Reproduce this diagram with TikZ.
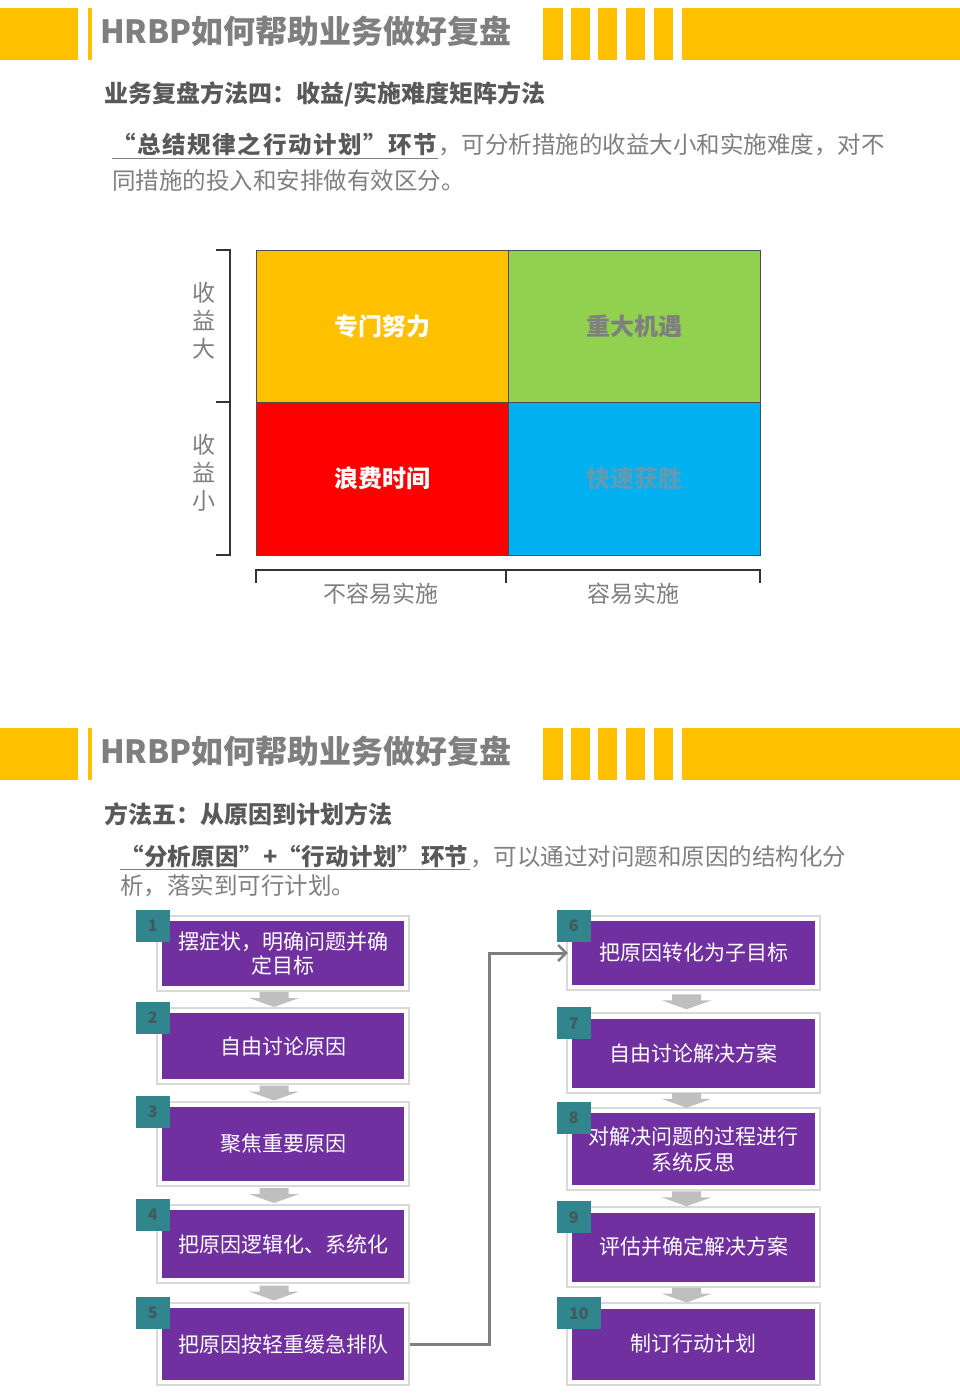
\documentclass[tikz,border=0pt]{standalone}
\usepackage{fontspec}
\setmainfont{Noto Sans CJK SC}
\usetikzlibrary{calc,arrows.meta,backgrounds}
\definecolor{gold}{HTML}{FFC000}
\definecolor{mgreen}{HTML}{92D050}
\definecolor{mred}{HTML}{FF0000}
\definecolor{mblue}{HTML}{00B0F0}
\definecolor{purp}{HTML}{7030A0}
\definecolor{badgeteal}{HTML}{31868E}
\definecolor{badgetxt}{HTML}{3F5A5C}
\definecolor{txtdark}{HTML}{595959}
\definecolor{txtgray}{HTML}{7F7F7F}
\definecolor{chevgray}{HTML}{BFBFBF}
\definecolor{fastblue}{HTML}{5E9DB5}
\definecolor{conngray}{HTML}{7F7F7F}
\newcommand\fs[1]{\fontsize{#1pt}{#1pt}\selectfont}
\newcommand\myhdr[2]{%
  \fill[gold] (0,#1) rectangle (78,{#1+52});
  \fill[gold] (88,#1) rectangle (92,{#1+52});
  \fill[gold] (543,#1) rectangle (563,{#1+52});
  \fill[gold] (571,#1) rectangle (590,{#1+52});
  \fill[gold] (598,#1) rectangle (617,{#1+52});
  \fill[gold] (626,#1) rectangle (645,{#1+52});
  \fill[gold] (654,#1) rectangle (673,{#1+52});
  \fill[gold] (682,#1) rectangle (960,{#1+52});
  \node[hdr] (#2) at (100,{#1+23}) {HRBP如何帮助业务做好复盘};
}
\begin{document}
\begin{tikzpicture}[x=1pt,y=-1pt,
  hdr/.style={anchor=west, text=txtgray, font=\fs{32}\bfseries, inner sep=0},
  ttl/.style={anchor=west, text=txtdark, font=\fs{24}\bfseries, inner sep=0},
  parab/.style={anchor=base west, text=txtdark, font=\fs{23.5}\bfseries, inner sep=0},
  parar/.style={anchor=base west, text=txtgray, font=\fs{23.5}, inner sep=0},
  cell/.style={minimum width=252pt, minimum height=152.5pt, inner sep=0, draw=black!70, line width=0.8pt, font=\fs{24}\bfseries},
  axl/.style={text=txtgray, font=\fs{23}, inner sep=0, align=center},
  brk/.style={draw=black!80, line width=1.2pt},
  pbox/.style={fill=purp, text=white, font=\fs{21}, inner sep=0, align=center},
  lbox/.style={pbox, minimum width=242pt},
  rbox/.style={pbox, minimum width=243pt},
  frame/.style={fill=white, draw=black!15, line width=2pt},
  badge/.style={fill=badgeteal, text=badgetxt, font=\fs{16}\bfseries, minimum width=34pt, minimum height=32pt, inner sep=0},
  conn/.style={draw=conngray, line width=3pt, -{Straight Barb[length=8pt, width=16pt, line width=2.5pt]}},
  chev/.pic={\fill[chevgray] (-14.5,0) -- (14.5,0) -- (14.5,6) -- (25,6) -- (0,15) -- (-25,6) -- (-14.5,6) -- cycle;}
]
\useasboundingbox (0,0) rectangle (960,1396);

% ---------- section 1 ----------
\myhdr{8}{hdrA}
\node[ttl] (t1) at (104,94) {业务复盘方法四：收益/实施难度矩阵方法};
\node[parab] (p1b) at (112,154) {\addfontfeature{LetterSpace=7}“总结规律之行动计划”环节};
\node[parar] (p1r) at (438,154) {，可分析措施的收益大小和实施难度，对不};
\node[parar] (p1s) at (112,190) {同措施的投入和安排做有效区分。};
\draw[txtgray, line width=1pt] (112,158.5) -- (438,158.5);

\node[cell, fill=gold, text=white] (q1) at (382,326.25) {专门努力};
\node[cell, fill=mgreen, text=txtgray] (q2) at (634,326.25) {重大机遇};
\node[cell, fill=mred, text=white] (q3) at (382,478.75) {浪费时间};
\node[cell, fill=mblue, text=fastblue] (q4) at (634,478.75) {快速获胜};

\draw[brk] (216,250) -- (230,250) -- (230,555) -- (216,555);
\draw[brk] (216,402) -- (230,402);
\node[axl] (yhi) at (204,321) {收\\[5pt]益\\[5pt]大};
\node[axl] (ylo) at (204,473) {收\\[5pt]益\\[5pt]小};

\draw[brk] (256,583) -- (256,570) -- (760,570) -- (760,583);
\draw[brk] (506,570) -- (506,583);
\node[axl] (xhard) at (381,594) {不容易实施};
\node[axl] (xeasy) at (633,594) {容易实施};

% ---------- section 2 ----------
\myhdr{728}{hdrB}
\node[ttl] (t2) at (104,814) {方法五：从原因到计划方法};
\node[parab] (p2b) at (120,865) {\addfontfeature{LetterSpace=1.5}“分析原因”+“行动计划”环节};
\node[parar] (p2r) at (470,865) {，可以通过对问题和原因的结构化分};
\node[parar] (p2s) at (120,894) {析，落实到可行计划。};
\draw[txtgray, line width=1pt] (120,869.5) -- (470,869.5);

% left column
\node[lbox, minimum height=65pt] (b1) at (283,953.5) {摆症状，明确问题并确\\[3pt]定目标};
\node[lbox, minimum height=66pt] (b2) at (283,1046) {自由讨论原因};
\node[lbox, minimum height=74pt] (b3) at (283,1144) {聚焦重要原因};
\node[lbox, minimum height=68pt] (b4) at (283,1244) {把原因逻辑化、系统化};
\node[lbox, minimum height=72pt] (b5) at (283,1344) {把原因按轻重缓急排队};
% right column
\node[rbox, minimum height=64pt] (b6) at (693.5,953) {把原因转化为子目标};
\node[rbox, minimum height=69pt] (b7) at (693.5,1053) {自由讨论解决方案};
\node[rbox, minimum height=72pt] (b8) at (693.5,1149) {对解决问题的过程进行\\[5pt]系统反思};
\node[rbox, minimum height=69pt] (b9) at (693.5,1247) {评估并确定解决方案};
\node[rbox, minimum height=71pt] (b10) at (693.5,1344) {制订行动计划};

\begin{scope}[on background layer]
  \fill[white] (0,0) rectangle (960,1396);
  \foreach \b in {b1,b2,b3,b4,b5,b6,b7,b8,b9,b10}{
    \draw[frame] ([shift={(-5pt,5pt)}]\b.north west) rectangle ([shift={(5pt,-5pt)}]\b.south east);
  }
\end{scope}

% badges
\foreach \b/\n in {b1/1,b2/2,b3/3,b4/4,b5/5}{
  \node[badge] (n\n) at ([shift={(-9pt,-5pt)}]\b.north west) {\n};
}
\foreach \b/\n in {b6/6,b7/7,b8/8,b9/9}{
  \node[badge] (n\n) at ([shift={(2pt,-5pt)}]\b.north west) {\n};
}
\node[badge, minimum width=44pt] (n10) at ([shift={(7pt,-5pt)}]b10.north west) {10};

% chevrons
\foreach \a/\c in {b1/b2,b2/b3,b3/b4,b4/b5}{
  \path ($(\a.south)!0.5!(\c.north)+(-9pt,7.5pt)$) pic {chev};
}
\foreach \a/\c in {b6/b7,b7/b8,b8/b9,b9/b10}{
  \path ($(\a.south)!0.5!(\c.north)+(-7pt,7.5pt)$) pic {chev};
}

% connector
\coordinate (turn) at (489,1100);
\draw[conn] ([xshift=6pt]b5.east) -| (turn |- b6.west) -- ([xshift=-4pt]b6.west);
\end{tikzpicture}
\end{document}
